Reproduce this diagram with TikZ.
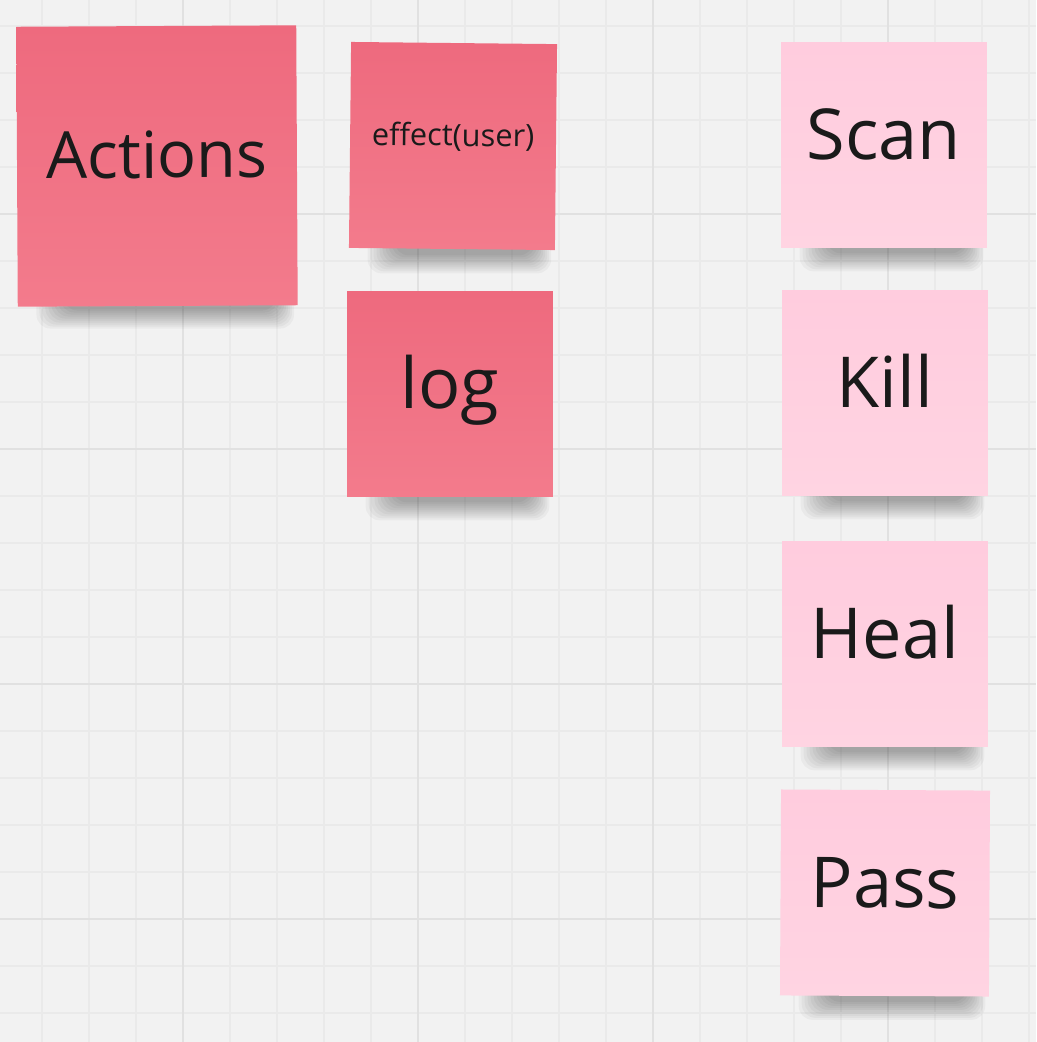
\documentclass[tikz,border=0pt]{standalone}
\usepackage{fontspec}
\setmainfont{Open Sans}
\usetikzlibrary{calc}

\definecolor{boardgray}{HTML}{F2F2F2}
\definecolor{gridminor}{HTML}{EAEAEA}
\definecolor{gridmajor}{HTML}{E1E1E1}
\definecolor{notered}{HTML}{EE6A7E}
\definecolor{noteredlight}{HTML}{F37B8C}
\definecolor{notepink}{HTML}{FFCCDE}
\definecolor{notepinklight}{HTML}{FFD4E2}
\definecolor{inkblack}{HTML}{1A1A1A}

\pgfdeclarelayer{board}
\pgfdeclarelayer{background}
\pgfsetlayers{board,background,main}

\newcommand\noteshadow[1]{%
  \foreach \i in {0,...,9}
    {\fill[black, opacity=0.035, rounded corners=8pt]
      ($(#1.south west)+(46-3*\i,-20)$) rectangle ($(#1.south east)+(-22+2*\i,5+2*\i)$);}}

\begin{document}
\begin{tikzpicture}[x = 0.02cm,
y = -0.02cm,
sticky/.style = {inner sep=0pt, minimum width=4.12cm, minimum height=4.12cm,
  text=inkblack, font=\fontsize{40}{48}\selectfont,
  text height=30pt, text depth=13pt},
rednote/.style = {sticky, top color=notered, bottom color=noteredlight},
pinknote/.style = {sticky, top color=notepink, bottom color=notepinklight}]
\useasboundingbox (0,0) rectangle (1036,1042);

% board
\begin{pgfonlayer}{board}
\fill[boardgray] (0,0) rectangle (1036,1042);
\foreach \gx in {42,89,...,1036}
  \draw[gridminor, line width=0.6pt] (\gx,0) -- (\gx,1042);
\foreach \gy in {26,73,...,1042}
  \draw[gridminor, line width=0.6pt] (0,\gy) -- (1036,\gy);
\foreach \gx in {183,418,653,888}
  \draw[gridmajor, line width=0.6pt] (\gx,0) -- (\gx,1042);
\foreach \gy in {214,449,684,919}
  \draw[gridmajor, line width=0.6pt] (0,\gy) -- (1036,\gy);
\end{pgfonlayer}

% sticky notes
\node[rednote, minimum width=5.6cm, minimum height=5.6cm, rotate=0.3,
  font=\fontsize{37}{44}\selectfont, text height=27pt, text depth=13.4pt]
  (actions) at (157,166) {Actions};
\node[rednote, rotate=-0.6, font=\fontsize{17.5}{21}\selectfont,
  text height=12pt, text depth=12pt]
  (effect) at (453,146) {effect(user)};
\node[rednote] (lognote) at (450,394) {log};

\node[pinknote] (scan) at (884,145) {Scan};
\node[pinknote] (kill) at (885,393) {Kill};
\node[pinknote] (heal) at (885,644) {Heal};
\node[pinknote, minimum width=4.18cm, rotate=-0.3] (pass) at (885,893) {Pass};

% shadows
\begin{pgfonlayer}{background}
\foreach \n in {actions,effect,lognote,scan,kill,heal,pass}
  {\noteshadow{\n}}
\end{pgfonlayer}
\end{tikzpicture}
\end{document}
